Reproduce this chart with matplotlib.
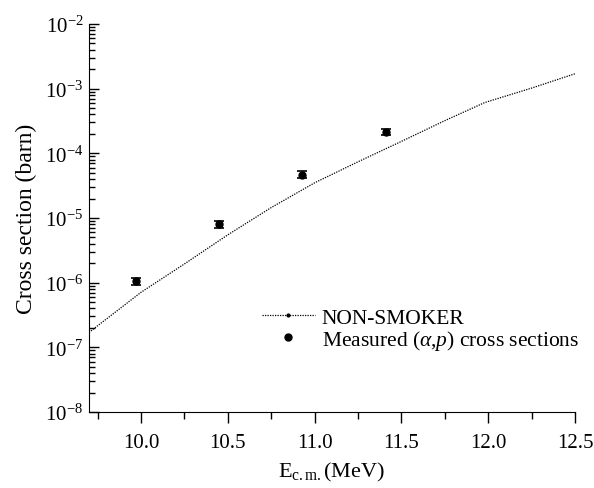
import numpy as np
import matplotlib
matplotlib.use("Agg")
import matplotlib.pyplot as plt
from matplotlib.lines import Line2D
from matplotlib.ticker import LogLocator, MultipleLocator

# NON-SMOKER prediction
ns_energy = [9.70, 10.00, 10.25, 10.50, 10.75, 11.00, 11.25, 11.50, 11.75, 11.98, 12.25, 12.50]
ns_sigma = [1.7e-7, 7.1e-7, 1.95e-6, 5.5e-6, 1.45e-5, 3.5e-5, 7.4e-5, 1.53e-4, 3.2e-4, 6.1e-4, 1.02e-3, 1.7e-3]

# measured (a,p) cross sections
meas_energy = [9.97, 10.45, 10.93, 11.41]
meas_sigma = [1.05e-6, 8.0e-6, 4.7e-5, 2.15e-4]
meas_err = [0.12e-6, 0.9e-6, 0.6e-5, 0.25e-4]

plt.rcParams['font.family'] = ['Liberation Serif', 'DejaVu Serif']
plt.rcParams['mathtext.fontset'] = 'custom'
plt.rcParams['mathtext.rm'] = 'Liberation Serif'
plt.rcParams['mathtext.it'] = 'Liberation Serif:italic'

fig = plt.figure(figsize=(5.94, 4.89), dpi=100)
ax = fig.add_axes([0.1498, 0.1554, 0.8182, 0.7935])

ax.plot(ns_energy, ns_sigma, color='black', lw=0.9, ls=(0, (1, 1)))
ax.errorbar(meas_energy, meas_sigma, yerr=meas_err, fmt='o', color='black',
            ms=5, capsize=3.5, elinewidth=1, capthick=1.2)

ax.set_yscale('log')
ax.set_xlim(9.7, 12.5)
ax.set_ylim(1e-8, 1e-2)

ax.spines['top'].set_visible(False)
ax.spines['right'].set_visible(False)

ax.xaxis.set_major_locator(MultipleLocator(0.5))
ax.xaxis.set_minor_locator(MultipleLocator(0.25))
ax.xaxis.set_major_formatter(plt.FormatStrFormatter('%.1f'))
ax.yaxis.set_major_locator(LogLocator(base=10, numticks=10))
ax.yaxis.set_minor_locator(LogLocator(base=10, subs=np.arange(2, 10), numticks=10))
ax.yaxis.set_minor_formatter(plt.NullFormatter())

ax.tick_params(axis='x', which='major', direction='out', length=8, width=1, labelsize=15, pad=7)
ax.tick_params(axis='x', which='minor', direction='out', length=5, width=1)
ax.tick_params(axis='y', which='major', direction='in', length=7, width=1, labelsize=15, pad=4)
ax.tick_params(axis='y', which='minor', direction='in', length=4, width=1)

ax.set_xlabel(r'E$_{\rm c.m.}$(MeV)', fontsize=16, labelpad=6)
ax.set_ylabel('Cross section (barn)', fontsize=17, labelpad=6)

handles = [
    Line2D([], [], color='black', lw=0.9, ls=(0, (1, 1)), marker='o', ms=2),
    Line2D([], [], color='black', lw=0, marker='o', ms=5),
]
labels = ['NON-SMOKER', r'Measured ($\alpha$,$p$) cross sections']
fig.legend(handles, labels, loc='upper left', bbox_to_anchor=(0.415, 0.4),
           frameon=False, fontsize=15.5, handlelength=2.5, handletextpad=0.3,
           labelspacing=0.0, borderpad=0.2)

fig.savefig('out.png', dpi=100)
